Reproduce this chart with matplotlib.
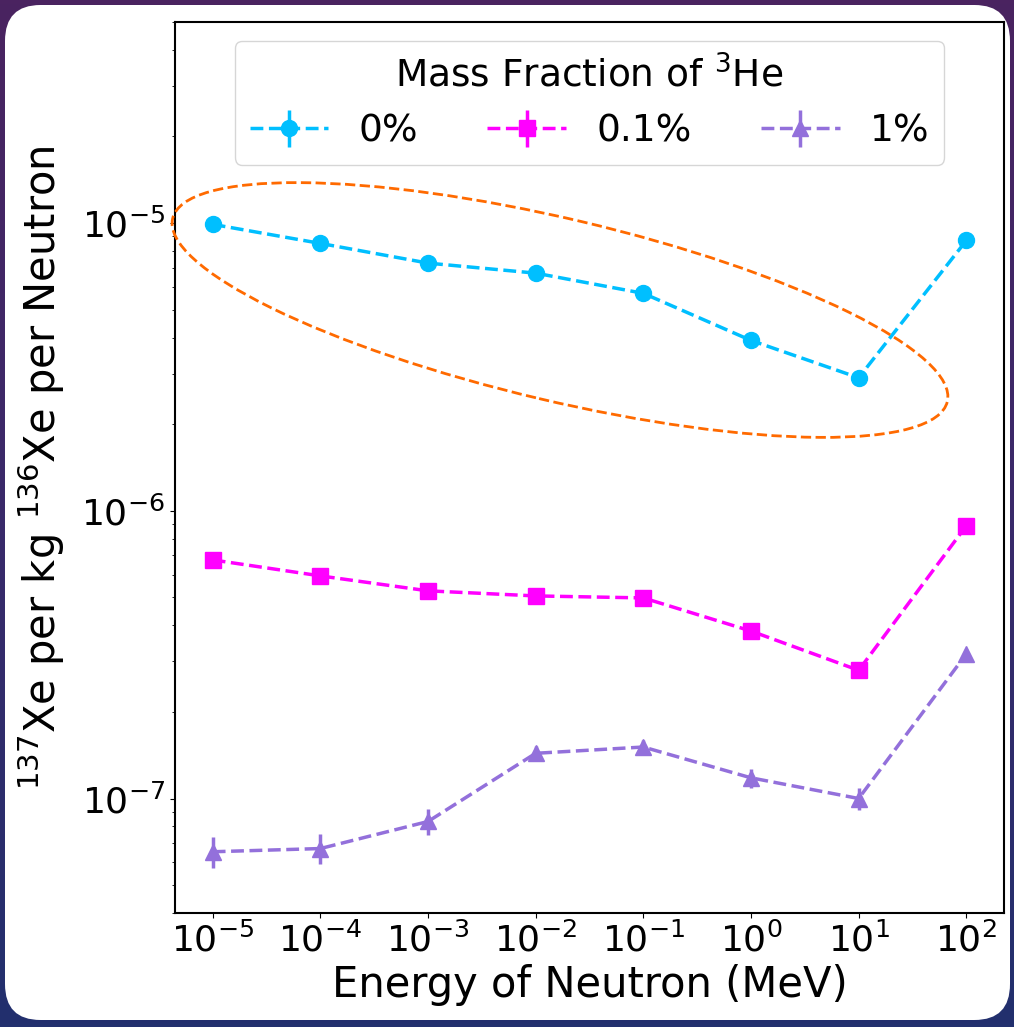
import numpy as np
import matplotlib
matplotlib.use('Agg')
import matplotlib.pyplot as plt
from matplotlib.patches import Ellipse, FancyBboxPatch
from matplotlib.transforms import IdentityTransform
from matplotlib.ticker import LogLocator

# neutron energies (MeV)
energy = [1e-5, 1e-4, 1e-3, 1e-2, 1e-1, 1e0, 1e1, 1e2]

# 137Xe per kg 136Xe per neutron, by 3He mass fraction
xe_0 = [9.9e-6, 8.5e-6, 7.26e-6, 6.7e-6, 5.7e-6, 3.91e-6, 2.9e-6, 8.7e-6]
xe_01 = [6.75e-7, 5.94e-7, 5.27e-7, 5.06e-7, 4.98e-7, 3.82e-7, 2.79e-7, 8.87e-7]
xe_1 = [6.53e-8, 6.7e-8, 8.32e-8, 1.436e-7, 1.51e-7, 1.18e-7, 1.0e-7, 3.18e-7]

err_0 = [5e-8, 5e-8, 5e-8, 5e-8, 5e-8, 4e-8, 4e-8, 5e-8]
err_01 = [1.2e-8, 1.2e-8, 1.2e-8, 1.2e-8, 1.2e-8, 1.2e-8, 1.2e-8, 1.2e-8]
err_1 = [8e-9, 8e-9, 8.5e-9, 9e-9, 9e-9, 9e-9, 9e-9, 9e-9]

labels = ['0%', '0.1%', '1%']

W, H = 1014, 1027
fig = plt.figure(figsize=(W / 100, H / 100), dpi=100)

# slide background
bg = fig.add_axes([0, 0, 1, 1], zorder=-10)
grad = np.linspace(0, 1, 256).reshape(-1, 1)
bg.imshow(grad, aspect='auto', cmap=matplotlib.colors.LinearSegmentedColormap.from_list(
    'slide', ['#4a2360', '#3a2a6a', '#22306e']), extent=[0, 1, 0, 1], origin='upper')
bg.set_xlim(0, 1)
bg.set_ylim(0, 1)
bg.axis('off')
card = FancyBboxPatch((5 / W, 7 / H), (W - 9) / W, (H - 12) / H,
                      boxstyle='round,pad=0,rounding_size=0.035',
                      transform=bg.transAxes, facecolor='white', edgecolor='none')
bg.add_patch(card)

ax = fig.add_axes([175 / W, (H - 913) / H, (1004 - 175) / W, (913 - 22) / H])

series = [(xe_0, err_0, '#00BFFF', 'o', 11.5),
          (xe_01, err_01, '#FF00FF', 's', 11),
          (xe_1, err_1, '#9370DB', '^', 11)]
for (y, e, c, m, ms), lab in zip(series, labels):
    ax.errorbar(energy, y, yerr=e, color=c, marker=m, markersize=ms,
                linestyle='--', linewidth=2.5, elinewidth=2.5, label=lab)

ax.set_xscale('log')
ax.set_yscale('log')
ax.set_ylim(4e-8, 5e-5)
ax.xaxis.set_major_locator(LogLocator(base=10, numticks=20))
ax.set_xlabel('Energy of Neutron (MeV)', fontsize=30)
ax.set_ylabel('$^{137}$Xe per kg $^{136}$Xe per Neutron', fontsize=30, labelpad=10)
ax.tick_params(axis='both', which='major', labelsize=26)
for s in ax.spines.values():
    s.set_linewidth(1.5)

leg = ax.legend(loc='upper center', ncol=3, fontsize=27, handlelength=2.1,
                columnspacing=1.85, title='Mass Fraction of $^3$He',
                title_fontsize=27)

# highlight ring around the 0% curve
ring = Ellipse((560, H - 310), 796, 182, angle=-13.3, transform=IdentityTransform(),
               fill=False, edgecolor='#FF6A00', linestyle='--', linewidth=2)
fig.add_artist(ring)

fig.savefig('out.png', dpi=100)
